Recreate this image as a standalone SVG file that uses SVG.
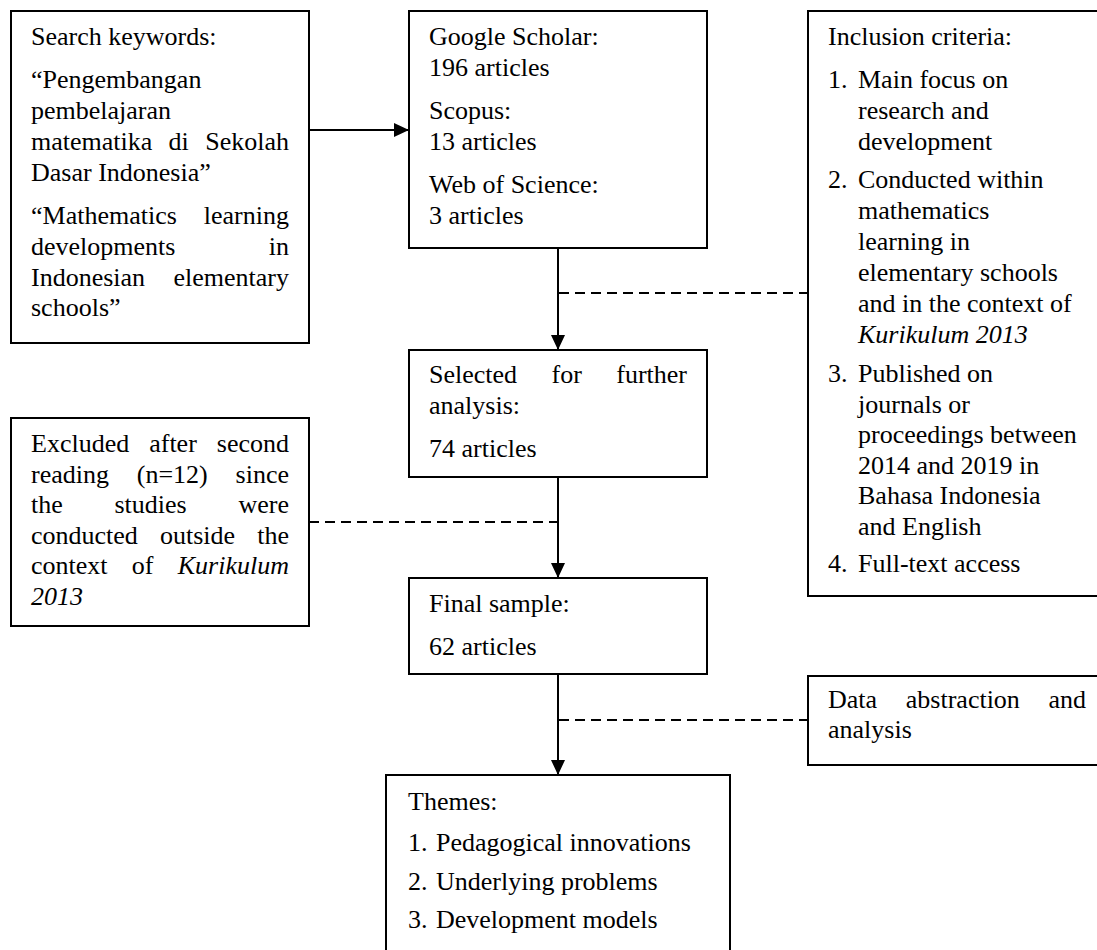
<svg xmlns="http://www.w3.org/2000/svg" width="1097" height="950" viewBox="0 0 1097 950">
<style>
  .box { fill: #fff; stroke: #000; stroke-width: 2; }
  text { font-family: "Liberation Serif", "Times New Roman", serif; font-size: 26px; fill: #000; }
  .it { font-style: italic; }
  .e { text-anchor: end; }
  .ln { stroke: #000; stroke-width: 2; fill: none; }
  .dash { stroke: #000; stroke-width: 2; fill: none; stroke-dasharray: 10 6; }
</style>
<defs>
  <marker id="ah" markerWidth="15" markerHeight="14" refX="15" refY="7" orient="auto" markerUnits="userSpaceOnUse">
    <path d="M0,0 L15,7 L0,14 z" fill="#000"/>
  </marker>
</defs>
<rect width="1097" height="950" fill="#fff"/>

<g id="connectors">
  <line class="ln" x1="309" y1="130" x2="409" y2="130" marker-end="url(#ah)"/>
  <line class="ln" x1="558" y1="248" x2="558" y2="350" marker-end="url(#ah)"/>
  <line class="ln" x1="558" y1="477" x2="558" y2="578" marker-end="url(#ah)"/>
  <line class="ln" x1="558" y1="674" x2="558" y2="775" marker-end="url(#ah)"/>
  <line class="dash" x1="559" y1="293" x2="808" y2="293"/>
  <line class="dash" x1="309" y1="522" x2="557" y2="522"/>
  <line class="dash" x1="559" y1="720" x2="808" y2="720"/>
</g>

<g id="search">
  <rect class="box" x="11" y="11" width="298" height="332"/>
  <text x="31" y="45">Search keywords:</text>
  <text x="31" y="88">“Pengembangan</text>
  <text x="31" y="119">pembelajaran</text>
  <text x="31" y="150">matematika</text>
  <text x="168.6" y="150">di</text>
  <text class="e" x="289" y="150">Sekolah</text>
  <text x="31" y="181">Dasar Indonesia”</text>
  <text x="31" y="224">“Mathematics</text>
  <text class="e" x="289" y="224">learning</text>
  <text x="31" y="255">developments</text>
  <text class="e" x="289" y="255">in</text>
  <text x="31" y="286">Indonesian</text>
  <text class="e" x="289" y="286">elementary</text>
  <text x="31" y="316">schools”</text>
</g>

<g id="sources">
  <rect class="box" x="409" y="11" width="298" height="237"/>
  <text x="429" y="45">Google Scholar:</text>
  <text x="429" y="76">196 articles</text>
  <text x="429" y="119">Scopus:</text>
  <text x="429" y="150">13 articles</text>
  <text x="429" y="193">Web of Science:</text>
  <text x="429" y="224">3 articles</text>
</g>

<g id="inclusion">
  <rect class="box" x="808" y="11" width="310" height="585"/>
  <text x="828" y="45">Inclusion criteria:</text>
  <text x="828" y="88">1.</text>
  <text x="858" y="88">Main focus on</text>
  <text x="858" y="119">research and</text>
  <text x="858" y="150">development</text>
  <text x="828" y="188">2.</text>
  <text x="858" y="188">Conducted within</text>
  <text x="858" y="219">mathematics</text>
  <text x="858" y="250">learning in</text>
  <text x="858" y="281">elementary schools</text>
  <text x="858" y="312">and in the context of</text>
  <text x="858" y="343" class="it">Kurikulum 2013</text>
  <text x="828" y="382">3.</text>
  <text x="858" y="382">Published on</text>
  <text x="858" y="412.5">journals or</text>
  <text x="858" y="443">proceedings between</text>
  <text x="858" y="473.5">2014 and 2019 in</text>
  <text x="858" y="504">Bahasa Indonesia</text>
  <text x="858" y="534.5">and English</text>
  <text x="828" y="572">4.</text>
  <text x="858" y="572">Full-text access</text>
</g>

<g id="selected">
  <rect class="box" x="409" y="350" width="298" height="127"/>
  <text x="429" y="383">Selected</text>
  <text x="551.5" y="383">for</text>
  <text class="e" x="687" y="383">further</text>
  <text x="429" y="414">analysis:</text>
  <text x="429" y="457">74 articles</text>
</g>

<g id="excluded">
  <rect class="box" x="11" y="418" width="298" height="208"/>
  <text x="31" y="452">Excluded</text>
  <text x="149.2" y="452">after</text>
  <text class="e" x="289" y="452">second</text>
  <text x="31" y="483">reading</text>
  <text x="136.8" y="483">(n=12)</text>
  <text class="e" x="289" y="483">since</text>
  <text x="31" y="513">the</text>
  <text x="114.5" y="513">studies</text>
  <text class="e" x="289" y="513">were</text>
  <text x="31" y="544">conducted</text>
  <text x="160" y="544">outside</text>
  <text class="e" x="289" y="544">the</text>
  <text x="31" y="574">context</text>
  <text x="131.8" y="574">of</text>
  <text class="e it" x="289" y="574">Kurikulum</text>
  <text class="it" x="31" y="605">2013</text>
</g>

<g id="final">
  <rect class="box" x="409" y="578" width="298" height="96"/>
  <text x="429" y="612">Final sample:</text>
  <text x="429" y="655">62 articles</text>
</g>

<g id="abstraction">
  <rect class="box" x="808" y="676" width="310" height="89"/>
  <text x="828" y="708">Data</text>
  <text x="905.8" y="708">abstraction</text>
  <text class="e" x="1086" y="708">and</text>
  <text x="828" y="738">analysis</text>
</g>

<g id="themes">
  <rect class="box" x="386" y="775" width="344" height="190"/>
  <text x="408" y="810">Themes:</text>
  <text x="408" y="851">1.</text>
  <text x="436" y="851">Pedagogical innovations</text>
  <text x="408" y="890">2.</text>
  <text x="436" y="890">Underlying problems</text>
  <text x="408" y="928">3.</text>
  <text x="436" y="928">Development models</text>
</g>
</svg>
